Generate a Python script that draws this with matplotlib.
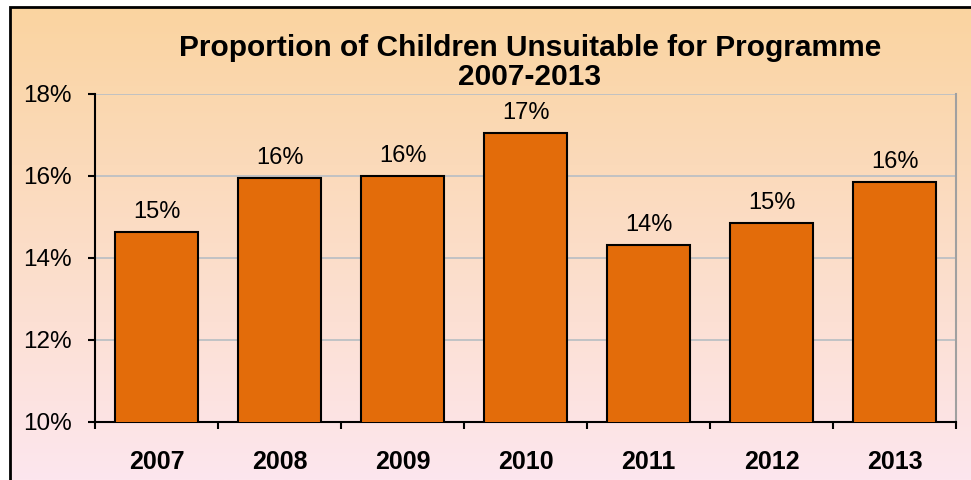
import numpy as np
import matplotlib
matplotlib.use("Agg")
import matplotlib.pyplot as plt
from matplotlib.patches import Rectangle
from matplotlib.ticker import FuncFormatter

# Data
years = ["2007", "2008", "2009", "2010", "2011", "2012", "2013"]
values = [14.64, 15.95, 16.0, 17.04, 14.32, 14.86, 15.86]
labels = ["15%", "16%", "16%", "17%", "14%", "15%", "16%"]

plt.rcParams['font.family'] = ['Liberation Sans', 'DejaVu Sans']

W, H = 971, 480
fig = plt.figure(figsize=(W / 100, H / 100), dpi=100)
fig.patch.set_facecolor("white")

# background gradient inside the border
bg = fig.add_axes([10 / W, 0, 1 - 10 / W, 1 - 7 / H], zorder=0)
top = np.array([250, 212, 160]) / 255
bot = np.array([253, 230, 238]) / 255
t = np.linspace(0, 1, 256)[:, None]
grad = (top * (1 - t) + bot * t)[:, None, :]
bg.imshow(grad, aspect="auto", extent=[0, 1, 0, 1])
bg.set_axis_off()
fig.patches.append(Rectangle((10 / W, -0.05), 1.0, 1 - 7 / H + 0.05,
                             transform=fig.transFigure, fill=False,
                             edgecolor="black", linewidth=2, zorder=5))

ax = fig.add_axes([95 / W, 58 / H, (956 - 95) / W, (422 - 94) / H], zorder=1)
ax.patch.set_alpha(0)
x = np.arange(len(years))
bars = ax.bar(x, values, width=0.67, color="#E36C0A", edgecolor="black",
              linewidth=1.5, zorder=3)
for xi, v, lab in zip(x, values, labels):
    ax.text(xi, v + 0.22, lab, ha="center", va="bottom", fontsize=17)

ax.set_ylim(10, 18)
ax.set_xlim(-0.5, len(years) - 0.5)
ax.set_yticks([10, 12, 14, 16, 18])
ax.yaxis.set_major_formatter(FuncFormatter(lambda v, p: f"{v:.0f}%"))
ax.grid(axis="y", color="#BCC0C4", linewidth=1.3, zorder=0)
ax.set_xticks(x)
ax.set_xticklabels(years, fontsize=18, fontweight="bold")
ax.set_xticks(np.arange(len(years) + 1) - 0.5, minor=True)
ax.tick_params(axis="x", which="major", length=0, pad=20)
ax.tick_params(axis="x", which="minor", length=5, width=1.5, direction="out")
ax.tick_params(axis="y", length=5, width=1.5, labelsize=17.5, pad=12)
for s in ["left", "bottom"]:
    ax.spines[s].set_linewidth(1.5)
ax.spines["top"].set_visible(False)
ax.spines["right"].set_color("#A0A0A0")
ax.spines["right"].set_linewidth(1.5)

fig.text(530 / W, 1 - 48 / H, "Proportion of Children Unsuitable for Programme",
         ha="center", va="center", fontsize=21.5, fontweight="bold")
fig.text(530 / W, 1 - 77 / H, "2007-2013",
         ha="center", va="center", fontsize=21.5, fontweight="bold")

fig.savefig("out.png", dpi=100)
